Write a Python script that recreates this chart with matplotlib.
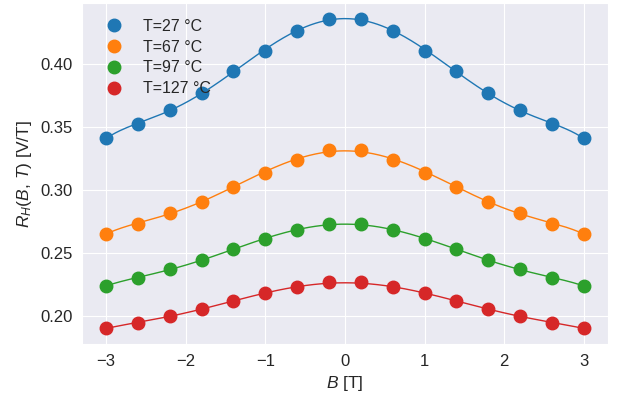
import numpy as np
import matplotlib
matplotlib.use("Agg")
import matplotlib.pyplot as plt
import seaborn as sns

sns.set_style("darkgrid")
plt.rcParams['font.family'] = ['Liberation Sans', 'DejaVu Sans']
plt.rcParams['mathtext.fontset'] = 'custom'
plt.rcParams['mathtext.rm'] = 'Liberation Sans'
plt.rcParams['mathtext.it'] = 'Liberation Sans:italic'

B = [-3.0, -2.6, -2.2, -1.8, -1.4, -1.0, -0.6, -0.2, 0.2, 0.6, 1.0, 1.4, 1.8, 2.2, 2.6, 3.0]
labels = ["T=27 °C", "T=67 °C", "T=97 °C", "T=127 °C"]
R_27 = [0.341, 0.352, 0.3635, 0.377, 0.394, 0.410, 0.426, 0.436,
        0.436, 0.426, 0.410, 0.394, 0.377, 0.3635, 0.352, 0.341]
R_67 = [0.265, 0.273, 0.2815, 0.2907, 0.3026, 0.3137, 0.3238, 0.3312,
        0.3312, 0.3238, 0.3137, 0.3026, 0.2907, 0.2815, 0.273, 0.265]
R_97 = [0.2238, 0.2299, 0.2371, 0.2444, 0.2526, 0.2611, 0.2677, 0.273,
        0.273, 0.2677, 0.2611, 0.2526, 0.2444, 0.2371, 0.2299, 0.2238]
R_127 = [0.1899, 0.1944, 0.1998, 0.2053, 0.2119, 0.2177, 0.2225, 0.2264,
         0.2264, 0.2225, 0.2177, 0.2119, 0.2053, 0.1998, 0.1944, 0.1899]
series = [R_27, R_67, R_97, R_127]
colors = ['#1f77b4', '#ff7f0e', '#2ca02c', '#d62728']

fig = plt.figure(figsize=(6.22, 4.01), dpi=100)
ax = fig.add_axes([0.132, 0.142, 0.845, 0.8505])

Bx = np.array(B)
Bfine = np.linspace(Bx.min(), Bx.max(), 300)
for vals, lab, c in zip(series, labels, colors):
    v = np.array(vals)
    coef = np.polyfit(Bx, v, 6)
    ax.plot(Bfine, np.polyval(coef, Bfine), color=c, lw=1.0, zorder=2)
    ax.plot(Bx, v, 'o', color=c, ms=9, label=lab, zorder=3)

ax.set_xticks([-3, -2, -1, 0, 1, 2, 3])
ax.set_xticklabels(['\u22123', '\u22122', '\u22121', '0', '1', '2', '3'])
ax.set_yticks([0.20, 0.25, 0.30, 0.35, 0.40])
ax.tick_params(labelsize=12)
ax.set_xlabel(r'$B$ [T]', fontsize=12.5)
ax.set_ylabel(r'$R_H(B,\,T)$ [V/T]', fontsize=12.5)
ax.legend(loc='upper left', fontsize=11.5, frameon=False, labelspacing=0.36,
          borderaxespad=0.6)

fig.savefig('out.png', dpi=100)
